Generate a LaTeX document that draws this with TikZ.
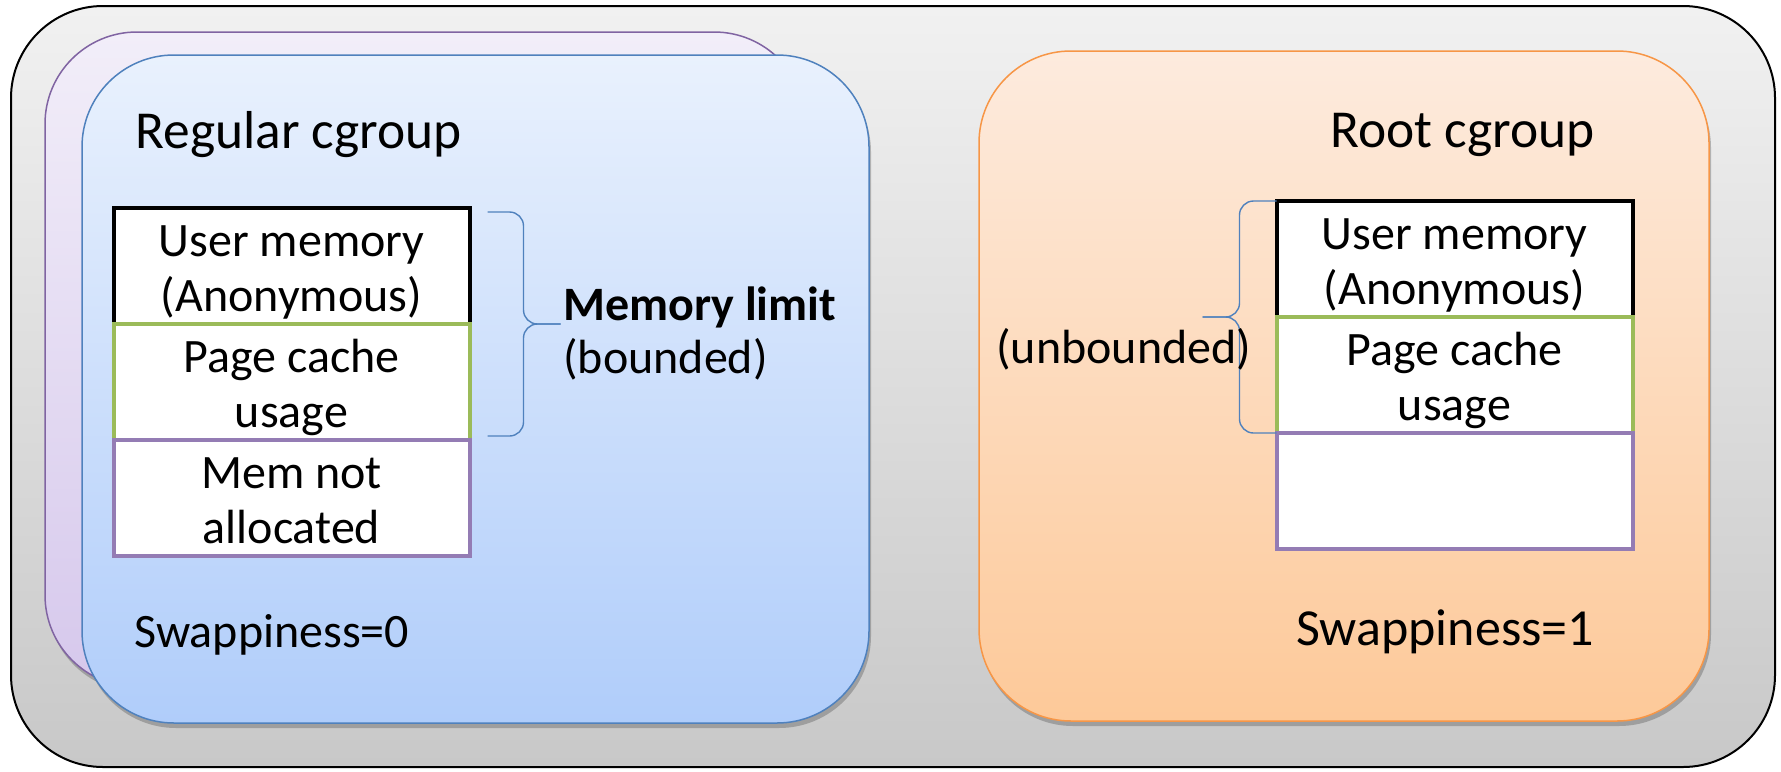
\documentclass[tikz,border=0pt]{standalone}
\usepackage{fontspec}
\setmainfont{Carlito}
\usepackage{tikz}
\usetikzlibrary{positioning, shadows}

\definecolor{cgblue}{RGB}{79, 129, 189}
\definecolor{bluetop}{RGB}{233, 241, 253}
\definecolor{bluebot}{RGB}{176, 205, 250}
\definecolor{rootline}{RGB}{247, 150, 70}
\definecolor{roottop}{RGB}{253, 235, 222}
\definecolor{rootbot}{RGB}{253, 201, 153}
\definecolor{lavline}{RGB}{128, 100, 162}
\definecolor{lavtop}{RGB}{242, 238, 249}
\definecolor{lavbot}{RGB}{214, 200, 236}
\definecolor{hostop}{RGB}{241, 241, 241}
\definecolor{hostbot}{RGB}{200, 200, 200}
\definecolor{memgreen}{RGB}{155, 187, 89}
\definecolor{mempurple}{RGB}{148, 124, 180}

\begin{document}
\begin{tikzpicture}[x=0.5pt, y=-0.5pt,
  group/.style={rounded corners=46pt, line width=0.75pt},
  shade/.style={drop shadow={shadow xshift=1pt, shadow yshift=-2.5pt, opacity=.35, fill=black!70}},
  membox/.style={draw, fill=white, line width=2pt, minimum width=178pt, minimum height=58pt,
    inner sep=0pt, outer sep=0pt, align=center, text height=49pt, text depth=4pt,
    font=\fontsize{24pt}{27.5pt}\selectfont},
  txt/.style={font=\fontsize{24pt}{27.5pt}\selectfont, inner sep=0pt},
  title/.style={font=\fontsize{26.7pt}{31pt}\selectfont, inner sep=0pt},
  bracket/.style={draw=cgblue, line width=0.7pt, rounded corners=7pt}]
  \useasboundingbox (0,0) rectangle (1781,771);

  % Host
  \draw[group, line width=1pt, top color=hostop, bottom color=hostbot] (11,6) rectangle (1775,767);

  % Regular cgroup (stacked)
  \draw[group, shade, draw=lavline, top color=lavtop, bottom color=lavbot] (45,32) rectangle (806,687);
  \draw[group, shade, draw=cgblue, top color=bluetop, bottom color=bluebot] (82,55) rectangle (869,723);

  % Root cgroup
  \draw[group, shade, draw=rootline, top color=roottop, bottom color=rootbot] (979,51) rectangle (1709,721);

  % Titles
  \node[title, anchor=base west] (regular) at (135,148) {Regular cgroup};
  \node[title, anchor=base west] (root) at (1330,147) {Root cgroup};

  % Left memory stack
  \node[membox, draw=black] (lusr) at (291.5,266) {User memory\\(Anonymous)};
  \node[membox, draw=memgreen, below=0pt of lusr] (lcache) {Page cache\\usage};
  \node[membox, draw=mempurple, below=0pt of lcache] (lfree) {Mem not\\allocated};

  % Right memory stack
  \node[membox, draw=black] (rusr) at (1454.5,259) {User memory\\(Anonymous)};
  \node[membox, draw=memgreen, below=0pt of rusr] (rcache) {Page cache\\usage};
  \node[membox, draw=mempurple, below=0pt of rcache] (rfree) {};

  % Limits
  \draw[bracket] ([xshift=45.5pt]lusr.south east) -| ([xshift=27pt, yshift=-2pt]lusr.north east) -- ([xshift=9pt, yshift=-2pt]lusr.north east);
  \draw[bracket] ([xshift=45.5pt]lusr.south east) -| ([xshift=27pt, yshift=2pt]lcache.south east) -- ([xshift=9pt, yshift=2pt]lcache.south east);
  \node[txt, anchor=base west] (limit) at (563,320) {\textbf{Memory limit}};
  \node[txt, anchor=base west] (bounded) at (563,373) {(bounded)};

  \draw[bracket] ([xshift=-37pt]rusr.south west) -| ([xshift=-18.5pt]rusr.north west) -- (rusr.north west);
  \draw[bracket] ([xshift=-37pt]rusr.south west) -| ([xshift=-18.5pt]rcache.south west) -- (rcache.south west);
  \node[txt, anchor=base west] (unbounded) at (996,363) {(unbounded)};

  % Swappiness
  \node[txt, anchor=base west] (lswap) at (134,647) {Swappiness=0};
  \node[txt, anchor=base west, font=\fontsize{26pt}{30pt}\selectfont] (rswap) at (1296,645) {Swappiness=1};
\end{tikzpicture}
\end{document}
